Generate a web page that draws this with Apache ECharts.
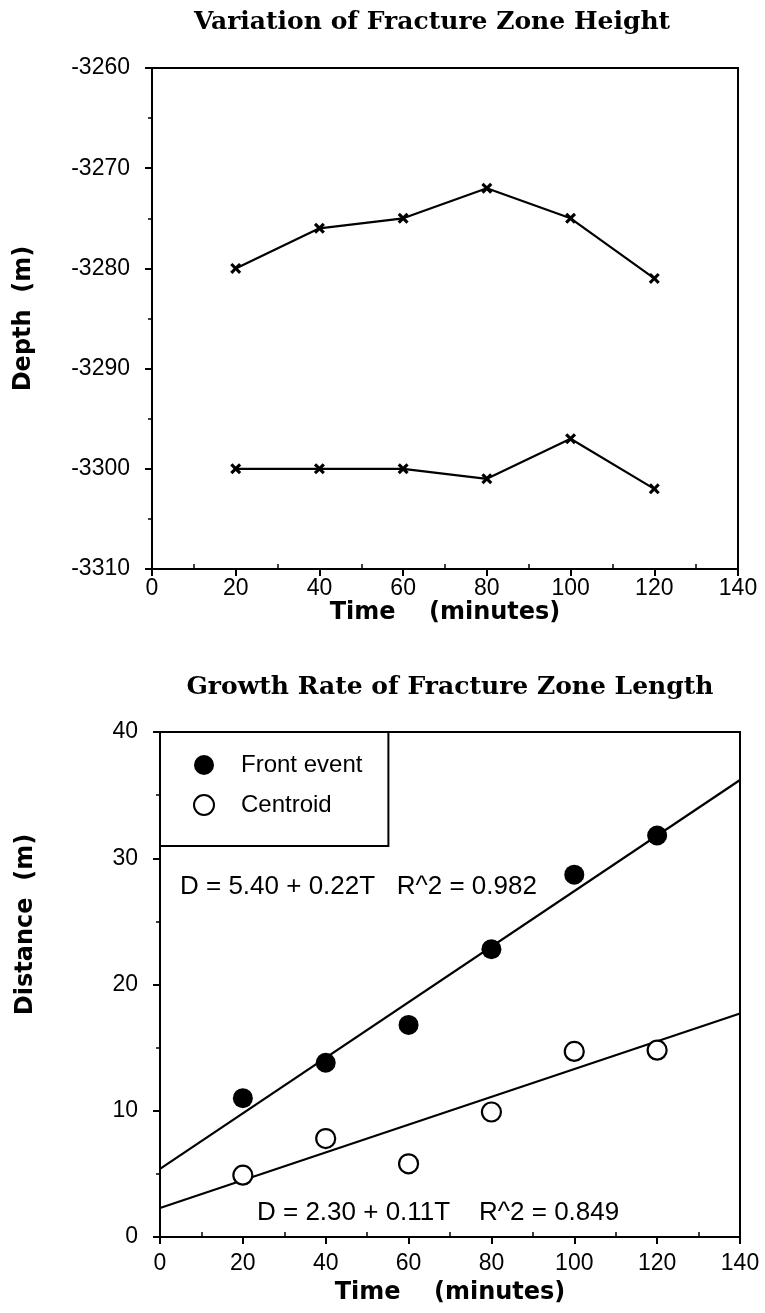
<!DOCTYPE html>
<html><head><meta charset="utf-8">
<script src="https://cdn.jsdelivr.net/npm/echarts@6/dist/echarts.min.js"></script>
<style>html,body{margin:0;padding:0;background:#fff}#c{width:765px;height:1313px}</style>
</head><body><div id="c"></div>
<script>
// ---- data ----
const timeMinutes = [20, 40, 60, 80, 100, 120];
const depthUpper = [-3280, -3276, -3275, -3272, -3275, -3281];
const depthLower = [-3300, -3300, -3300, -3301, -3297, -3302];
const frontEvent = [11.0, 13.8, 16.8, 22.8, 28.7, 31.8];
const centroid = [4.9, 7.8, 5.8, 9.9, 14.7, 14.8];
const fitTimes = [0, 140];
const frontFit = [5.4, 36.2];
const centroidFit = [2.3, 17.7];
const titleTop = 'Variation of Fracture Zone Height';
const titleBottom = 'Growth Rate of Fracture Zone Length';
const frontEq = 'D = 5.40 + 0.22T   R^2 = 0.982';
const centroidEq = 'D = 2.30 + 0.11T    R^2 = 0.849';
const legendNames = ['Front event', 'Centroid'];

const zip = (xs, ys) => xs.map((x, i) => [x, ys[i]]);
const SANS = 'Liberation Sans';
const BOLD = 'DejaVu Sans';
const SERIF = 'DejaVu Serif';
const xMark = 'path://M2,0 L5,3 L8,0 L10,2 L7,5 L10,8 L8,10 L5,7 L2,10 L0,8 L3,5 L0,2 Z';

function valAxis(extra, labelMargin, nameGap, namePad, minor) {
  return Object.assign({
    type: 'value',
    axisLine: { show: true, onZero: false, lineStyle: { color: '#000', width: 2 } },
    axisTick: { show: true, length: 7, lineStyle: { color: '#000', width: 2 } },
    minorTick: { show: minor !== false, splitNumber: 2, length: 4, lineStyle: { color: '#000', width: 1.5 } },
    splitLine: { show: false },
    axisLabel: { color: '#000', fontSize: 23, fontFamily: SANS, margin: labelMargin, formatter: v => String(v) },
    nameLocation: 'middle',
    nameGap: nameGap,
    nameTextStyle: { color: '#000', fontSize: 24, fontWeight: 'bold', fontFamily: BOLD, padding: namePad || 0 }
  }, extra);
}
// overlay axis that only draws the small inward minor ticks along the time axis
function minorInside(gridIndex) {
  return {
    type: 'value', gridIndex: gridIndex, position: 'bottom', min: 0, max: 140, interval: 20,
    axisLine: { show: false, onZero: false }, axisLabel: { show: false },
    axisTick: { show: false, inside: true },
    minorTick: { show: true, splitNumber: 2, length: 5, lineStyle: { color: '#000', width: 1.5 } },
    splitLine: { show: false }
  };
}

const chart = echarts.init(document.getElementById('c'), null, { renderer: 'canvas' });
chart.setOption({
  animation: false,
  backgroundColor: '#fff',
  grid: [
    { left: 152, top: 68, width: 586, height: 501, show: true, borderColor: '#000', borderWidth: 2, backgroundColor: 'transparent' },
    { left: 160, top: 732, width: 580, height: 505, show: true, borderColor: '#000', borderWidth: 2, backgroundColor: 'transparent' }
  ],
  xAxis: [
    valAxis({ gridIndex: 0, position: 'bottom', min: 0, max: 140, interval: 20, name: 'Time    (minutes)' }, 8, 28, 0, false),
    valAxis({ gridIndex: 1, position: 'bottom', min: 0, max: 140, interval: 20, name: 'Time    (minutes)' }, 15, 44, 0, false),
    minorInside(0),
    minorInside(1)
  ],
  yAxis: [
    valAxis({ gridIndex: 0, min: -3310, max: -3260, interval: 10, name: 'Depth  (m)' }, 22, 116),
    valAxis({ gridIndex: 1, min: 0, max: 40, interval: 10, name: 'Distance  (m)' }, 22, 122, [0, 0, 0, 120])
  ],
  legend: {
    orient: 'vertical', left: 160, top: 732,
    data: legendNames,
    backgroundColor: '#fff', borderColor: '#000', borderWidth: 2,
    padding: [21, 26, 29, 33], itemGap: 16, itemWidth: 20, itemHeight: 20,
    textStyle: { color: '#000', fontSize: 24, fontFamily: SANS, padding: [0, 0, 0, 22] }
  },
  graphic: [
    { type: 'text', x: 432, y: 22, style: { text: titleTop, fontFamily: SERIF, fontWeight: 'bold', fontSize: 25, fill: '#000', textAlign: 'center', textVerticalAlign: 'middle' } },
    { type: 'text', x: 450, y: 687, style: { text: titleBottom, fontFamily: SERIF, fontWeight: 'bold', fontSize: 25, fill: '#000', textAlign: 'center', textVerticalAlign: 'middle' } },
    { type: 'text', x: 180, y: 887, style: { text: frontEq, fontFamily: SANS, fontSize: 26, fill: '#000', textVerticalAlign: 'middle' } },
    { type: 'text', x: 257, y: 1213, style: { text: centroidEq, fontFamily: SANS, fontSize: 26, fill: '#000', textVerticalAlign: 'middle' } }
  ],
  series: [
    { type: 'line', xAxisIndex: 0, yAxisIndex: 0, data: zip(timeMinutes, depthUpper), symbol: xMark, symbolSize: 11, lineStyle: { color: '#000', width: 2.2 }, itemStyle: { color: '#000' } },
    { type: 'line', xAxisIndex: 0, yAxisIndex: 0, data: zip(timeMinutes, depthLower), symbol: xMark, symbolSize: 11, lineStyle: { color: '#000', width: 2.2 }, itemStyle: { color: '#000' } },
    { type: 'line', xAxisIndex: 1, yAxisIndex: 1, data: zip(fitTimes, frontFit), symbol: 'none', lineStyle: { color: '#000', width: 2.2 } },
    { type: 'line', xAxisIndex: 1, yAxisIndex: 1, data: zip(fitTimes, centroidFit), symbol: 'none', lineStyle: { color: '#000', width: 2.2 } },
    { name: legendNames[0], type: 'scatter', xAxisIndex: 1, yAxisIndex: 1, data: zip(timeMinutes, frontEvent), symbol: 'circle', symbolSize: 20, itemStyle: { color: '#000', opacity: 1 }, z: 5 },
    { name: legendNames[1], type: 'scatter', xAxisIndex: 1, yAxisIndex: 1, data: zip(timeMinutes, centroid), symbol: 'circle', symbolSize: 19, itemStyle: { color: '#fff', borderColor: '#000', borderWidth: 2.2, opacity: 1 }, z: 5 }
  ]
});
</script></body></html>
